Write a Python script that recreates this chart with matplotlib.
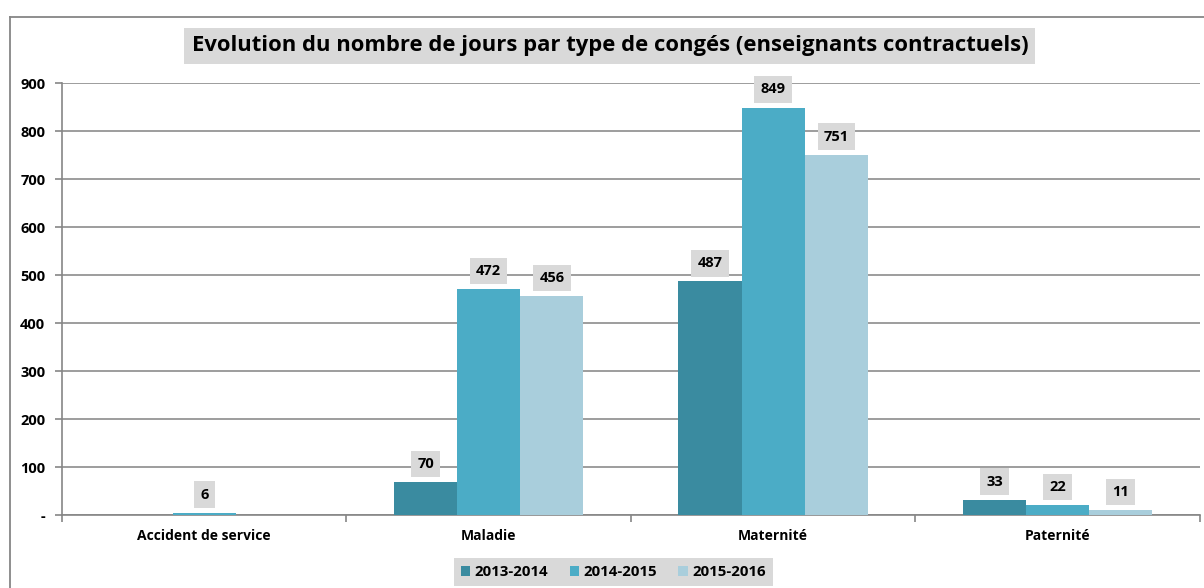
import numpy as np
import matplotlib
matplotlib.use("Agg")
import matplotlib.pyplot as plt
from matplotlib.lines import Line2D
from matplotlib.ticker import FuncFormatter

plt.rcParams["font.family"] = ["Open Sans", "DejaVu Sans"]
plt.rcParams["font.weight"] = "bold"

# --- données ---
categories = ["Accident de service", "Maladie", "Maternité", "Paternité"]
annees = ["2013-2014", "2014-2015", "2015-2016"]
v_2013_2014 = [np.nan, 70, 487, 33]
v_2014_2015 = [6, 472, 849, 22]
v_2015_2016 = [np.nan, 456, 751, 11]
series = [v_2013_2014, v_2014_2015, v_2015_2016]
couleurs = ["#3A8BA0", "#4BACC6", "#A9CEDC"]

fig = plt.figure(figsize=(12.04, 5.88), dpi=100)
ax = fig.add_axes([0.0515, 0.1233, 0.945, 0.7355])

# cadre extérieur du graphique
fig.add_artist(Line2D([9.5 / 1204, 9.5 / 1204], [0, 1 - 16.5 / 588],
                      transform=fig.transFigure, color="#868686", lw=1.3))
fig.add_artist(Line2D([9.5 / 1204, 1], [1 - 16.5 / 588, 1 - 16.5 / 588],
                      transform=fig.transFigure, color="#868686", lw=1.3))

x = np.arange(len(categories))
largeur = 0.222
for i, (vals, lab, c) in enumerate(zip(series, annees, couleurs)):
    pos = x + (i - 1) * largeur
    vals = np.array(vals, dtype=float)
    ax.bar(pos, np.nan_to_num(vals), largeur, color=c, label=lab, zorder=3)
    for p, v in zip(pos, vals):
        if np.isnan(v):
            continue
        ax.annotate(f"{int(v)}", (p, v), xytext=(0, 13), textcoords="offset points",
                    ha="center", va="center", fontsize=10.5, fontweight="bold",
                    bbox=dict(boxstyle="square,pad=0.42", fc="#D9D9D9", ec="none"),
                    zorder=4)

ax.set_xlim(-0.5, len(categories) - 0.5)
ax.set_ylim(0, 900)
ax.set_yticks(range(0, 901, 100))
ax.yaxis.set_major_formatter(FuncFormatter(lambda v, p: "-" if v == 0 else f"{int(v)}"))
ax.yaxis.grid(True, color="#8C8C8C", lw=1.2, zorder=0)
ax.set_axisbelow(True)

ax.set_xticks(x)
ax.set_xticklabels(categories, fontsize=10, fontweight="bold")
ax.tick_params(axis="x", length=0, pad=10)
ax.set_xticks(np.arange(-0.5, len(categories)), minor=True)
ax.tick_params(axis="x", which="minor", length=5, color="#868686", width=1.2)
ax.tick_params(axis="y", length=5, color="#868686", width=1.2, labelsize=10.5, pad=7)
for lab in ax.get_yticklabels():
    lab.set_fontweight("bold")

for s in ["top", "right"]:
    ax.spines[s].set_visible(False)
ax.spines["left"].set_color("#868686")
ax.spines["bottom"].set_color("#868686")
ax.spines["left"].set_linewidth(1.2)
ax.spines["bottom"].set_linewidth(1.2)

fig.text(0.5065, 1 - 46 / 588, "Evolution du nombre de jours par type de congés (enseignants contractuels)",
         ha="center", va="center", fontsize=15.8, fontweight="bold",
         bbox=dict(boxstyle="square,pad=0.32", fc="#D9D9D9", ec="none"))

leg = fig.legend(loc="center", bbox_to_anchor=(0.5095, 1 - 572 / 588), ncol=3,
                 frameon=True, fancybox=False, fontsize=10.8, handlelength=0.65,
                 handleheight=0.65, handletextpad=0.3, columnspacing=1.4,
                 borderpad=0.45)
leg.get_frame().set_facecolor("#D9D9D9")
leg.get_frame().set_edgecolor("none")
leg.get_frame().set_alpha(1)
for t in leg.get_texts():
    t.set_fontweight("bold")

fig.savefig("out.png", dpi=100)
